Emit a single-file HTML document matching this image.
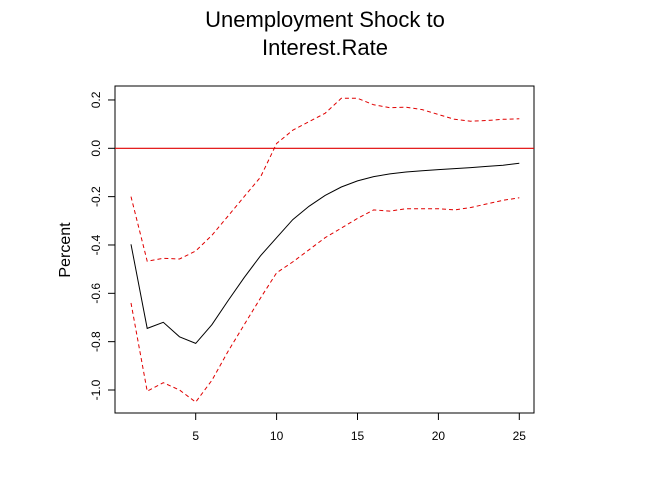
<!DOCTYPE html>
<html><head><meta charset="utf-8"><style>
body{margin:0;background:#fff;}
svg{display:block;font-family:"Liberation Sans",Arial,sans-serif;}
</style></head><body>
<svg id="chart" width="650" height="500">
<text x="325" y="27" text-anchor="middle" font-size="22">Unemployment Shock to</text>
<text x="325" y="55" text-anchor="middle" font-size="22">Interest.Rate</text>
<text transform="translate(70,250) rotate(-90)" text-anchor="middle" font-size="16">Percent</text>
<rect x="115" y="86" width="419" height="327" fill="none" stroke="#000" stroke-width="1"/>
<g id="axes"></g><g id="marks"></g>
</svg>
<script>
const steps=[1,2,3,4,5,6,7,8,9,10,11,12,13,14,15,16,17,18,19,20,21,22,23,24,25];
const irf=[-0.397,-0.745,-0.72,-0.78,-0.807,-0.73,-0.63,-0.535,-0.445,-0.37,-0.295,-0.24,-0.195,-0.16,-0.135,-0.117,-0.106,-0.098,-0.093,-0.088,-0.084,-0.08,-0.075,-0.07,-0.062];
const upper=[-0.2,-0.467,-0.455,-0.458,-0.425,-0.36,-0.28,-0.2,-0.12,0.02,0.075,0.11,0.145,0.207,0.207,0.18,0.168,0.17,0.16,0.14,0.12,0.112,0.115,0.12,0.122];
const lower=[-0.64,-1.005,-0.97,-1.0,-1.05,-0.96,-0.84,-0.73,-0.62,-0.515,-0.47,-0.42,-0.37,-0.33,-0.29,-0.255,-0.26,-0.25,-0.25,-0.25,-0.255,-0.245,-0.23,-0.215,-0.205];
const xTicks=[5,10,15,20,25];
const yTicks=[-1.0,-0.8,-0.6,-0.4,-0.2,0.0,0.2];
const NS='http://www.w3.org/2000/svg';
function xs(v){return 195.7+(v-5)*16.18;}
function ys(v){return 148.3-v*241.7;}
function mk(t,a,p){const e=document.createElementNS(NS,t);for(const k in a)e.setAttribute(k,a[k]);p.appendChild(e);return e;}
const ax=document.getElementById('axes'),mg=document.getElementById('marks');
xTicks.forEach(t=>{
 const l=mk('line',{x1:xs(t),x2:xs(t),y1:413,y2:420,stroke:'#000'},ax);
 
 
 const tx=mk('text',{x:xs(t),y:440,'text-anchor':'middle','font-size':12},ax);tx.textContent=t;
 
 
});
yTicks.forEach(t=>{
 const l=mk('line',{x1:108,x2:115,y1:ys(t),y2:ys(t),stroke:'#000'},ax);
 
 
 const tx=mk('text',{transform:`translate(100,${ys(t)}) rotate(-90)`,'text-anchor':'middle','font-size':12},ax);tx.textContent=t.toFixed(1);
 
 
});
const zl=mk('line',{x1:115,x2:534,y1:ys(0),y2:ys(0),stroke:'#e00000','stroke-width':1.2},mg);


function path(arr){return arr.map((v,i)=>(i?'L':'M')+xs(steps[i]).toFixed(1)+','+ys(v).toFixed(1)).join('');}
const pu=mk('path',{d:path(upper),fill:'none',stroke:'#e00000','stroke-dasharray':'4,3'},mg);


const pl=mk('path',{d:path(lower),fill:'none',stroke:'#e00000','stroke-dasharray':'4,3'},mg);


const pi=mk('path',{d:path(irf),fill:'none',stroke:'#000'},mg);


</script>
</body></html>
